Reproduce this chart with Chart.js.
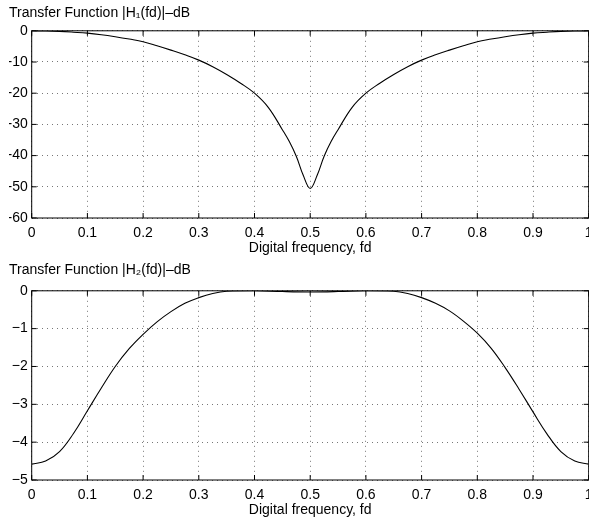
<!DOCTYPE html>
<html>
<head>
<meta charset="utf-8">
<script src="https://cdnjs.cloudflare.com/ajax/libs/Chart.js/4.4.1/chart.umd.min.js"></script>
<style>
  html, body { margin:0; padding:0; background:#fff; overflow:hidden; width:589px; height:524px; }
  .plot { position:absolute; left:0; width:600px; height:262px; }
  #p1 { top:0; }
  #p2 { top:262px; }
</style>
</head>
<body>
<div class="plot" id="p1"><canvas id="c1"></canvas></div>
<div class="plot" id="p2"><canvas id="c2"></canvas></div>
<script>
// |H1(fd)| in dB — notch at fd = 0.5
const FD1   = [0, 0.025, 0.05, 0.075, 0.1, 0.125, 0.15, 0.175, 0.2, 0.225, 0.25, 0.275, 0.3, 0.325, 0.35,
               0.375, 0.4, 0.425, 0.45, 0.4625, 0.475, 0.4875, 0.5, 0.5125, 0.525, 0.5375, 0.55, 0.575, 0.6,
               0.625, 0.65, 0.675, 0.7, 0.725, 0.75, 0.775, 0.8, 0.825, 0.85, 0.875, 0.9, 0.925, 0.95, 0.975, 1];
const H1_DB = [0, -0.05, -0.2, -0.45, -0.75, -1.25, -1.9, -2.65, -3.5, -4.8, -6.2, -7.7, -9.4, -11.5, -14,
               -16.8, -20, -24.6, -31.7, -35.5, -40.2, -46.3, -50.5, -46.3, -40.2, -35.5, -31.7, -24.6, -20,
               -16.8, -14, -11.5, -9.4, -7.7, -6.2, -4.8, -3.5, -2.65, -1.9, -1.25, -0.75, -0.45, -0.2, -0.05, 0];

// |H2(fd)| in dB — flat top between ~0.35 and ~0.65
const FD2   = [0, 0.025, 0.05, 0.075, 0.1, 0.125, 0.15, 0.175, 0.2, 0.225, 0.25, 0.275, 0.3, 0.325, 0.35,
               0.4, 0.45, 0.5, 0.55, 0.6, 0.65, 0.675, 0.7, 0.725, 0.75, 0.775, 0.8, 0.825, 0.85, 0.875,
               0.9, 0.925, 0.95, 0.975, 1];
const H2_DB = [-4.58, -4.5, -4.25, -3.77, -3.17, -2.57, -2.0, -1.53, -1.15, -0.82, -0.55, -0.33, -0.18, -0.07, -0.01,
               0, -0.02, -0.03, -0.02, 0, -0.01, -0.07, -0.18, -0.33, -0.53, -0.8, -1.12, -1.52, -2.03, -2.6,
               -3.2, -3.78, -4.25, -4.5, -4.58];

const X_TICKS  = ['0', '0.1', '0.2', '0.3', '0.4', '0.5', '0.6', '0.7', '0.8', '0.9', '1'];
const Y1_TICKS = ['-60', '-50', '-40', '-30', '-20', '-10', '0'];
const Y2_TICKS = ['\u22125', '\u22124', '\u22123', '\u22122', '\u22121', '0'];

const FONT = "'Liberation Sans', Arial, Helvetica, sans-serif";

// MATLAB-style box with inward tick marks on all four sides
const frame = {
  id: 'frame',
  afterDatasetsDraw(chart) {
    const {ctx, chartArea: a, scales: {x, y}} = chart;
    const tl = 5;
    ctx.save();
    ctx.strokeStyle = '#000';
    ctx.lineWidth = 1;
    ctx.strokeRect(a.left, a.top, a.right - a.left, a.bottom - a.top);
    ctx.beginPath();
    x.ticks.forEach(t => {
      const px = x.getPixelForValue(t.value);
      ctx.moveTo(px, a.bottom); ctx.lineTo(px, a.bottom - tl);
      ctx.moveTo(px, a.top);    ctx.lineTo(px, a.top + tl);
    });
    y.ticks.forEach(t => {
      const py = y.getPixelForValue(t.value);
      ctx.moveTo(a.left, py);  ctx.lineTo(a.left + tl, py);
      ctx.moveTo(a.right, py); ctx.lineTo(a.right - tl, py);
    });
    ctx.stroke();
    ctx.restore();
  }
};

function plot(id, title, fd, db, ymin, ymax, ystep, ylabels, titlePad) {
  new Chart(document.getElementById(id), {
    type: 'line',
    data: {
      datasets: [{
        data: fd.map((f, i) => ({x: f, y: db[i]})),
        borderColor: '#000', borderWidth: 1.1, pointRadius: 0,
        tension: 0.4, fill: false
      }]
    },
    options: {
      responsive: true, maintainAspectRatio: false, animation: false,
      layout: {padding: {left: 9, right: 11.3, top: 0, bottom: 4}},
      plugins: {
        legend: {display: false}, tooltip: {enabled: false},
        title: {display: true, text: title, align: 'start', color: '#000',
                font: {family: FONT, size: 14, weight: 'normal'}, padding: titlePad}
      },
      scales: {
        x: {
          type: 'linear', min: 0, max: 1,
          afterFit: s => { s.height = 40; s.paddingRight = 0; },
          ticks: {stepSize: 0.1, color: '#000', padding: 7, maxRotation: 0,
                  font: {family: FONT, size: 14}, callback: (v, i) => X_TICKS[i]},
          grid: {color: '#777', drawTicks: false},
          border: {display: false, dash: [1, 4]},
          title: {display: true, text: 'Digital frequency, fd', color: '#000',
                  font: {family: FONT, size: 14}, padding: {top: 0, bottom: 1}}
        },
        y: {
          min: ymin, max: ymax,
          afterFit: s => { s.width = 22.7; },
          ticks: {stepSize: ystep, color: '#000', padding: 4,
                  font: {family: FONT, size: 14}, callback: (v, i) => ylabels[i]},
          grid: {color: '#777', drawTicks: false},
          border: {display: false, dash: [1, 4]}
        }
      }
    },
    plugins: [frame]
  });
}

plot('c1', 'Transfer Function |H\u2081(fd)|\u2013dB', FD1, H1_DB, -60, 0, 10, Y1_TICKS, {top: 5, bottom: 9});
plot('c2', 'Transfer Function |H\u2082(fd)|\u2013dB', FD2, H2_DB, -5, 0, 1, Y2_TICKS, {top: 0, bottom: 12});
</script>
</body>
</html>
